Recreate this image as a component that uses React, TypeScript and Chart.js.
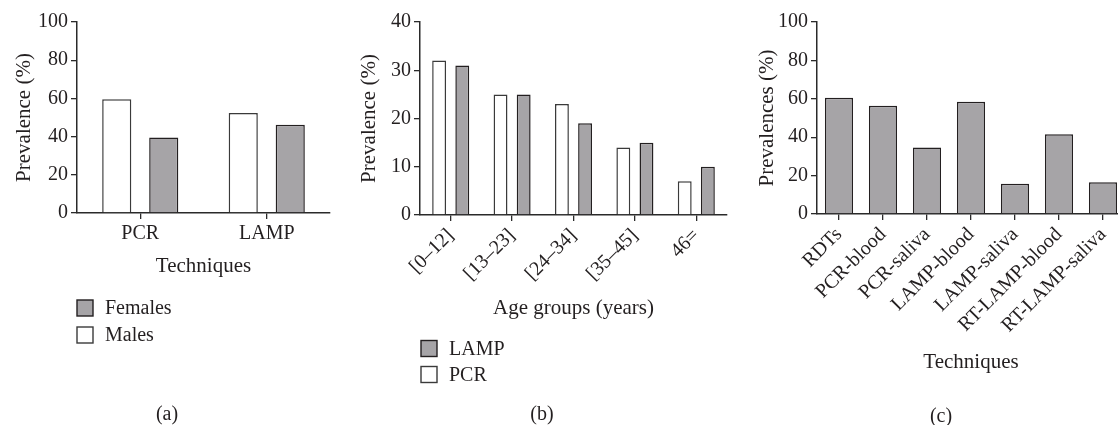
import React, { useEffect, useRef } from "react";
import { Chart, registerables } from "chart.js";

Chart.register(...registerables);

// ---------- data ----------
const techniquesA = ["PCR", "LAMP"];
const malesA = [59.6, 52.3];
const femalesA = [39.5, 46.2];

const ageGroupsB = ["[0–12]", "[13–23]", "[24–34]", "[35–45]", "46="];
const pcrB = [32, 25, 23, 14, 7];
const lampB = [31, 25, 19, 15, 10];

const techniquesC = [
  "RDTs",
  "PCR-blood",
  "PCR-saliva",
  "LAMP-blood",
  "LAMP-saliva",
  "RT-LAMP-blood",
  "RT-LAMP-saliva",
];
const prevalenceC = [60.6, 56.4, 34.7, 58.5, 15.7, 41.5, 16.5];

// ---------- styles ----------
const FAMILY = "'Liberation Serif', 'Times New Roman', serif";
const TEXT = "#231f20";
const AXIS = "#2a2a2a";
const GRAY = "#a6a4a7";
const GRAY_BORDER = "#231f20";
const WHITE_BORDER = "#3a3a3a";

const boxLegend = {
  id: "boxLegend",
  afterDraw(chart: any, _args: any, opts: any) {
    const { ctx } = chart;
    const x = chart.chartArea.left + (opts.dx || 0);
    const items = [...chart.data.datasets].reverse();
    ctx.save();
    items.forEach((ds: any, i: number) => {
      const cy = opts.y + i * opts.rowH;
      ctx.fillStyle = ds.backgroundColor;
      ctx.strokeStyle = ds.borderColor;
      ctx.lineWidth = 1.4;
      ctx.fillRect(x, cy - 8, 16, 16);
      ctx.strokeRect(x, cy - 8, 16, 16);
      ctx.fillStyle = TEXT;
      ctx.font = `20px ${FAMILY}`;
      ctx.textBaseline = "middle";
      ctx.textAlign = "left";
      ctx.fillText(ds.label, x + 28, cy + 1);
    });
    ctx.restore();
  },
};

function axes(opts: {
  yMax: number;
  yStep: number;
  yTitle: string;
  yTitlePad: number;
  yWidth: number;
  xTitle: string;
  xHeight: number;
  rotate: number;
}) {
  return {
    x: {
      grid: {
        display: true,
        drawOnChartArea: false,
        drawTicks: true,
        tickLength: 6,
        color: AXIS,
        lineWidth: 1.3,
        offset: false,
      },
      border: { display: true, color: AXIS, width: 1.5 },
      ticks: {
        color: TEXT,
        font: { family: FAMILY, size: 20 },
        padding: 3,
        autoSkip: false,
        maxRotation: opts.rotate,
        minRotation: opts.rotate,
      },
      title: {
        display: true,
        text: opts.xTitle,
        color: TEXT,
        font: { family: FAMILY, size: 21 },
        padding: { top: 0, bottom: 0 },
      },
      afterFit: (s: any) => {
        s.height = opts.xHeight;
      },
    },
    y: {
      min: 0,
      max: opts.yMax,
      grid: {
        display: true,
        drawOnChartArea: false,
        drawTicks: true,
        tickLength: 6,
        color: AXIS,
        lineWidth: 1.3,
      },
      border: { display: true, color: AXIS, width: 1.5 },
      ticks: {
        stepSize: opts.yStep,
        color: TEXT,
        font: { family: FAMILY, size: 20 },
        padding: 3,
      },
      title: {
        display: true,
        text: opts.yTitle,
        color: TEXT,
        font: { family: FAMILY, size: 21 },
        padding: { top: opts.yTitlePad, bottom: 0 },
      },
      afterFit: (s: any) => {
        s.width = opts.yWidth;
      },
    },
  };
}

function useChart(ref: React.RefObject<HTMLCanvasElement | null>, make: () => any) {
  useEffect(() => {
    if (!ref.current) return;
    const chart = new Chart(ref.current, make());
    return () => chart.destroy();
  }, []);
}

export default function App() {
  const refA = useRef<HTMLCanvasElement>(null);
  const refB = useRef<HTMLCanvasElement>(null);
  const refC = useRef<HTMLCanvasElement>(null);

  useChart(refA, () => ({
    type: "bar",
    data: {
      labels: techniquesA,
      datasets: [
        {
          label: "Males",
          data: malesA,
          backgroundColor: "#ffffff",
          borderColor: WHITE_BORDER,
          borderWidth: 1.5,
          categoryPercentage: 0.743,
          barPercentage: 0.62,
        },
        {
          label: "Females",
          data: femalesA,
          backgroundColor: GRAY,
          borderColor: GRAY_BORDER,
          borderWidth: 1.5,
          categoryPercentage: 0.743,
          barPercentage: 0.62,
        },
      ],
    },
    options: {
      responsive: false,
      animation: false,
      layout: { padding: { left: 0, top: 22, right: 10, bottom: 146 } },
      plugins: {
        legend: { display: false },
        tooltip: { enabled: false },
        boxLegend: { y: 308, rowH: 27, dx: 0 },
      },
      scales: axes({
        yMax: 100,
        yStep: 20,
        yTitle: "Prevalence (%)",
        yTitlePad: 12,
        yWidth: 77,
        xTitle: "Techniques",
        xHeight: 66,
        rotate: 0,
      }),
    },
    plugins: [boxLegend],
  }));

  useChart(refB, () => ({
    type: "bar",
    data: {
      labels: ageGroupsB,
      datasets: [
        {
          label: "PCR",
          data: pcrB,
          backgroundColor: "#ffffff",
          borderColor: WHITE_BORDER,
          borderWidth: 1.5,
          categoryPercentage: 0.754,
          barPercentage: 0.6,
        },
        {
          label: "LAMP",
          data: lampB,
          backgroundColor: GRAY,
          borderColor: GRAY_BORDER,
          borderWidth: 1.5,
          categoryPercentage: 0.754,
          barPercentage: 0.6,
        },
      ],
    },
    options: {
      responsive: false,
      animation: false,
      layout: { padding: { left: 0, top: 22, right: 3, bottom: 104 } },
      plugins: {
        legend: { display: false },
        tooltip: { enabled: false },
        boxLegend: { y: 348.5, rowH: 26, dx: 1 },
      },
      scales: axes({
        yMax: 40,
        yStep: 10,
        yTitle: "Prevalence (%)",
        yTitlePad: 17,
        yWidth: 80,
        xTitle: "Age groups (years)",
        xHeight: 106,
        rotate: 45,
      }),
    },
    plugins: [boxLegend],
  }));

  useChart(refC, () => ({
    type: "bar",
    data: {
      labels: techniquesC,
      datasets: [
        {
          label: "Prevalences",
          data: prevalenceC,
          backgroundColor: GRAY,
          borderColor: GRAY_BORDER,
          borderWidth: 1.5,
          categoryPercentage: 1,
          barPercentage: 0.64,
        },
      ],
    },
    options: {
      responsive: false,
      animation: false,
      layout: { padding: { left: 0, top: 22, right: 12, bottom: 50 } },
      plugins: {
        legend: { display: false },
        tooltip: { enabled: false },
      },
      scales: axes({
        yMax: 100,
        yStep: 20,
        yTitle: "Prevalences (%)",
        yTitlePad: 25,
        yWidth: 87,
        xTitle: "Techniques",
        xHeight: 161,
        rotate: 45,
      }),
    },
  }));

  const tag: React.CSSProperties = {
    position: "absolute",
    transform: "translate(-50%, -50%)",
    fontFamily: FAMILY,
    fontSize: 20,
    color: TEXT,
    whiteSpace: "nowrap",
  };

  return (
    <div
      style={{
        position: "absolute",
        left: 0,
        top: 0,
        width: 1118,
        height: 425,
        overflow: "hidden",
        background: "#ffffff",
      }}
    >
      <canvas
        ref={refA}
        width={340}
        height={425}
        style={{ position: "absolute", left: 0, top: 0 }}
      />
      <canvas
        ref={refB}
        width={390}
        height={425}
        style={{ position: "absolute", left: 340, top: 0 }}
      />
      <canvas
        ref={refC}
        width={407}
        height={425}
        style={{ position: "absolute", left: 730, top: 0 }}
      />
      <div style={{ ...tag, left: 167, top: 413 }}>(a)</div>
      <div style={{ ...tag, left: 542, top: 413 }}>(b)</div>
      <div style={{ ...tag, left: 941, top: 415 }}>(c)</div>
    </div>
  );
}
